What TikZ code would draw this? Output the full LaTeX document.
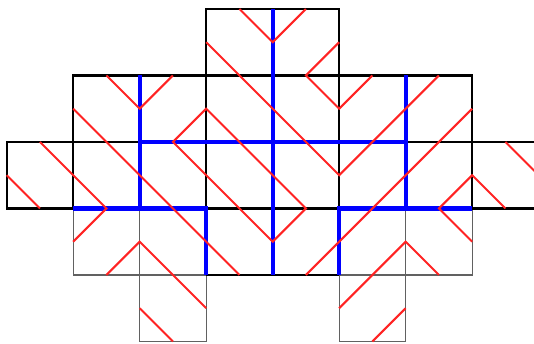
\documentclass[tikz,border=0pt]{standalone}
\begin{document}
\begin{tikzpicture}[x=1cm,y=1cm,
  thinedge/.style={draw=black!62,line width=0.55pt},
  thickedge/.style={draw=black,line width=0.95pt},
  fold/.style={draw=blue,line width=1.75pt},
  stripe/.style={draw={rgb,255:red,255;green,35;blue,35},line width=0.85pt,line join=miter}]
\clip (-0.1,-0.023) rectangle (7.93,5.135);
% thin grey cells (lower part)
\draw[thinedge] (1,1) rectangle (7,2);
\foreach \x in {2,3,4,5,6} \draw[thinedge] (\x,1) -- (\x,2);
\draw[thinedge] (2,0) rectangle (3,1);
\draw[thinedge] (5,0) rectangle (6,1);
% thick black cells
\draw[thickedge] (3,4) rectangle (5,5);
\draw[thickedge] (1,3) rectangle (7,4);
\foreach \x in {2,...,6} \draw[thickedge] (\x,3) -- (\x,4);
\draw[thickedge] (0,2) rectangle (8,3);
\foreach \x in {1,...,7} \draw[thickedge] (\x,2) -- (\x,3);
\draw[thickedge] (3,1) -- (5,1);
% blue folds
\draw[fold] (4,5) -- (4,1);
\draw[fold] (2,4) -- (2,2);
\draw[fold] (2,3) -- (6,3);
\draw[fold] (6,4) -- (6,2);
\draw[fold] (1,2) -- (3,2) -- (3,1);
\draw[fold] (7,2) -- (5,2) -- (5,1);
% red stripes
\draw[stripe] (3.5,5) -- (4,4.5) -- (4.5,5);
\draw[stripe] (3,4.5) -- (5,2.5) -- (6.5,4);
\draw[stripe] (5,4.5) -- (4.5,4) -- (5,3.5) -- (5.5,4);
\draw[stripe] (1.5,4) -- (2,3.5) -- (2.5,4);
\draw[stripe] (1,3.5) -- (3.5,1);
\draw[stripe] (2.5,3) -- (3,3.5) -- (4.5,2) -- (4,1.5) -- cycle;
\draw[stripe] (0.5,3) -- (1.5,2) -- (1,1.5);
\draw[stripe] (0,2.5) -- (0.5,2);
\draw[stripe] (1.5,1) -- (2,1.5) -- (3,0.5);
\draw[stripe] (2,0.5) -- (2.5,0);
\draw[stripe] (4.5,1) -- (7,3.5);
\draw[stripe] (7,1.5) -- (6.5,2) -- (7,2.5) -- (7.5,2);
\draw[stripe] (7.5,3) -- (8,2.5);
\draw[stripe] (5,0.5) -- (6,1.5) -- (6.5,1);
\draw[stripe] (6,0.5) -- (5.5,0);
\end{tikzpicture}
\end{document}
